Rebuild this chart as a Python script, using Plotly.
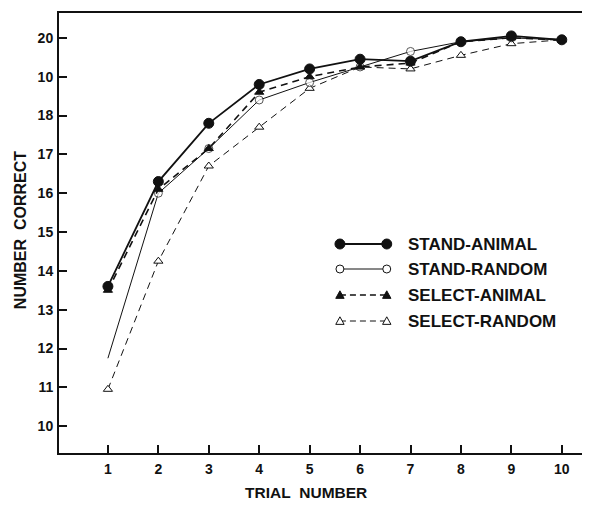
import plotly.graph_objects as go

# ---------------- data ----------------
TRIALS = [1, 2, 3, 4, 5, 6, 7, 8, 9, 10]
STAND_ANIMAL = [13.6, 16.3, 17.8, 18.8, 19.2, 19.45, 19.4, 19.9, 20.05, 19.95]
STAND_RANDOM = [11.75, 16.0, 17.15, 18.4, 18.85, 19.25, 19.65, 19.9, 20.0, 19.95]
SELECT_ANIMAL = [13.5, 16.1, 17.15, 18.6, 19.0, 19.25, 19.35, 19.9, 20.0, 19.95]
SELECT_RANDOM = [10.95, 14.25, 16.7, 17.7, 18.7, 19.25, 19.2, 19.55, 19.85, 19.95]
SERIES_NAMES = ["STAND-ANIMAL", "STAND-RANDOM", "SELECT-ANIMAL", "SELECT-RANDOM"]
Y_TICK_VALUES = [10, 11, 12, 13, 14, 15, 16, 17, 18, 19, 20]
Y_TICK_LABELS = ["10", "11", "12", "13", "14", "15", "16", "17", "18", "10", "20"]
X_TITLE = "TRIAL\u00a0\u00a0NUMBER"
Y_TITLE = "NUMBER\u00a0\u00a0CORRECT"

# ---------------- layout constants ----------------
# the page body has an 8px margin, so the figure is made smaller and placed accordingly
WIN_W, WIN_H, OFF = 590, 507, 8
W, H = WIN_W - OFF, WIN_H - OFF
# plot box in window pixels
BOX_L, BOX_R, BOX_T, BOX_B = 59, 589, 13, 453
ML, MR, MT, MB = BOX_L - OFF, WIN_W - BOX_R, BOX_T - OFF, WIN_H - BOX_B
PW, PH = BOX_R - BOX_L, BOX_B - BOX_T
FONT = "Liberation Sans, Arial, sans-serif"
INK = "#111111"


def px(x):
    return (x - BOX_L) / PW


def py(y):
    return (BOX_B - y) / PH


styles = [
    dict(line=dict(color=INK, width=1.8, dash="solid"),
         marker=dict(symbol="circle", size=10, color=INK, line=dict(color=INK, width=1))),
    dict(line=dict(color=INK, width=1.0, dash="solid"),
         marker=dict(symbol="circle", size=8, color="white", line=dict(color=INK, width=1))),
    dict(line=dict(color=INK, width=1.6, dash="7px,5px"),
         marker=dict(symbol="triangle-up", size=8, color=INK, line=dict(color=INK, width=1))),
    dict(line=dict(color=INK, width=1.0, dash="7px,5px"),
         marker=dict(symbol="triangle-up", size=8, color="white", line=dict(color=INK, width=1))),
]
series = [STAND_ANIMAL, STAND_RANDOM, SELECT_ANIMAL, SELECT_RANDOM]

fig = go.Figure()
for idx in [3, 1, 2, 0]:
    mk = dict(styles[idx]["marker"])
    if idx == 1:
        # the first open circle is not printed in the source figure
        mk["size"] = [0] + [mk["size"]] * (len(TRIALS) - 1)
    fig.add_trace(go.Scatter(
        x=TRIALS, y=series[idx], mode="lines+markers", name=SERIES_NAMES[idx],
        line=styles[idx]["line"], marker=mk, showlegend=False,
        cliponaxis=False,
    ))

# ---------------- manual legend (layout shapes) ----------------
LEG_X0, LEG_X1, LEG_TEXT_X = 341, 388, 407
LEG_ROWS = [244, 269, 295, 321]
shapes = []
annotations = []
for i, name in enumerate(SERIES_NAMES):
    yy = LEG_ROWS[i]
    st = styles[i]
    shapes.append(dict(type="line", xref="paper", yref="paper",
                       x0=px(LEG_X0), x1=px(LEG_X1), y0=py(yy), y1=py(yy),
                       line=dict(color=INK, width=st["line"]["width"],
                                 dash="solid" if st["line"]["dash"] == "solid" else "6px,4px"),
                       layer="above"))
    for cx in (LEG_X0, LEG_X1):
        fill = st["marker"]["color"]
        if st["marker"]["symbol"] == "circle":
            r = st["marker"]["size"] / 2
            shapes.append(dict(type="circle", xref="paper", yref="paper",
                               x0=px(cx - r), x1=px(cx + r), y0=py(yy - r), y1=py(yy + r),
                               fillcolor=fill, line=dict(color=INK, width=1), layer="above"))
        else:
            s = 4.2
            pts = [(cx - s, yy + s * 0.8), (cx + s, yy + s * 0.8), (cx, yy - s * 1.0)]
            path = "M{} {} L{} {} L{} {} Z".format(px(pts[0][0]), py(pts[0][1]),
                                                   px(pts[1][0]), py(pts[1][1]),
                                                   px(pts[2][0]), py(pts[2][1]))
            shapes.append(dict(type="path", xref="paper", yref="paper", path=path,
                               fillcolor=fill, line=dict(color=INK, width=1), layer="above"))
    annotations.append(dict(text=name, xref="paper", yref="paper", x=px(LEG_TEXT_X), y=py(yy),
                            xanchor="left", yanchor="middle", showarrow=False,
                            font=dict(family=FONT, size=17, color=INK, weight="bold")))

annotations.append(dict(text=X_TITLE, xref="paper", yref="paper", x=px(307), y=py(493),
                        xanchor="center", yanchor="middle", showarrow=False,
                        font=dict(family=FONT, size=15.5, color=INK, weight="bold")))
annotations.append(dict(text=Y_TITLE, xref="paper", yref="paper", x=px(20), y=py(230),
                        xanchor="center", yanchor="middle", showarrow=False, textangle=-90,
                        font=dict(family=FONT, size=16, color=INK, weight="bold")))

axis_common = dict(showline=True, linecolor=INK, linewidth=2, mirror=True,
                   ticks="inside", ticklen=8, tickwidth=1.5, tickcolor=INK,
                   showgrid=False, zeroline=False,
                   tickfont=dict(family=FONT, size=14, color=INK, weight="bold"))

fig.update_layout(
    width=W, height=H,
    margin=dict(l=ML, r=MR, t=MT, b=MB),
    paper_bgcolor="white", plot_bgcolor="white",
    xaxis=dict(range=[0.03, 10.5], tickmode="array", tickvals=TRIALS,
               ticklabelstandoff=2, **axis_common),
    yaxis=dict(range=[9.31, 20.64], tickmode="array", tickvals=Y_TICK_VALUES,
               ticktext=Y_TICK_LABELS, ticklabelstandoff=1, **axis_common),
    shapes=shapes, annotations=annotations,
)

fig.write_html("out.html")
